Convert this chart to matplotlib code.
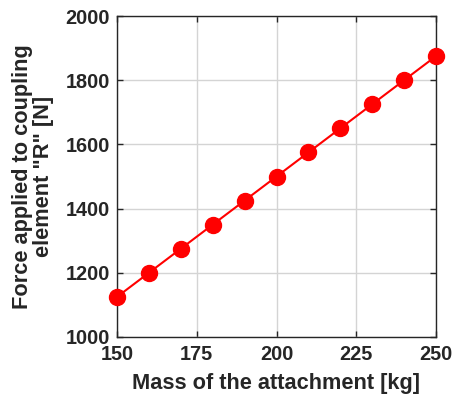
import matplotlib
matplotlib.use("Agg")
import matplotlib.pyplot as plt

mass = [150, 160, 170, 180, 190, 200, 210, 220, 230, 240, 250]
force = [1125, 1200, 1275, 1350, 1425, 1500, 1575, 1650, 1725, 1800, 1875]
xticks = [150, 175, 200, 225, 250]
yticks = [1000, 1200, 1400, 1600, 1800, 2000]

plt.rcParams['font.family'] = ['Liberation Sans', 'DejaVu Sans']
plt.rcParams['font.weight'] = 'bold'
txt = '#262626'

fig = plt.figure(figsize=(4.56, 3.98), dpi=100)
ax = fig.add_axes([117/456, 1 - 337/398, (436-117)/456, (337-16)/398])
ax.plot(mass, force, color='#ff0000', lw=1.5, marker='o', markersize=11.5,
        markerfacecolor='#ff0000', markeredgecolor='#ff0000', clip_on=False, zorder=3)
ax.set_xlim(150, 250)
ax.set_ylim(1000, 2000)
ax.set_xticks(xticks)
ax.set_yticks(yticks)
ax.grid(True, color='#d4d4d4', lw=1)
ax.set_axisbelow(True)
ax.tick_params(direction='in', top=True, right=True, length=4, width=1,
               labelsize=14.3, colors=txt)
ax.tick_params(axis='x', pad=6)
ax.tick_params(axis='y', pad=5)
for lab in ax.get_xticklabels() + ax.get_yticklabels():
    lab.set_fontweight('bold')
for s in ax.spines.values():
    s.set_color(txt)
    s.set_linewidth(1)
ax.set_xlabel('Mass of the attachment [kg]', fontsize=15.7, fontweight='bold', color=txt, labelpad=6)
ax.set_ylabel('Force applied to coupling\nelement "R" [N]', fontsize=15.7, fontweight='bold', color=txt, labelpad=8, linespacing=1.05)
fig.savefig('out.png', dpi=100)
